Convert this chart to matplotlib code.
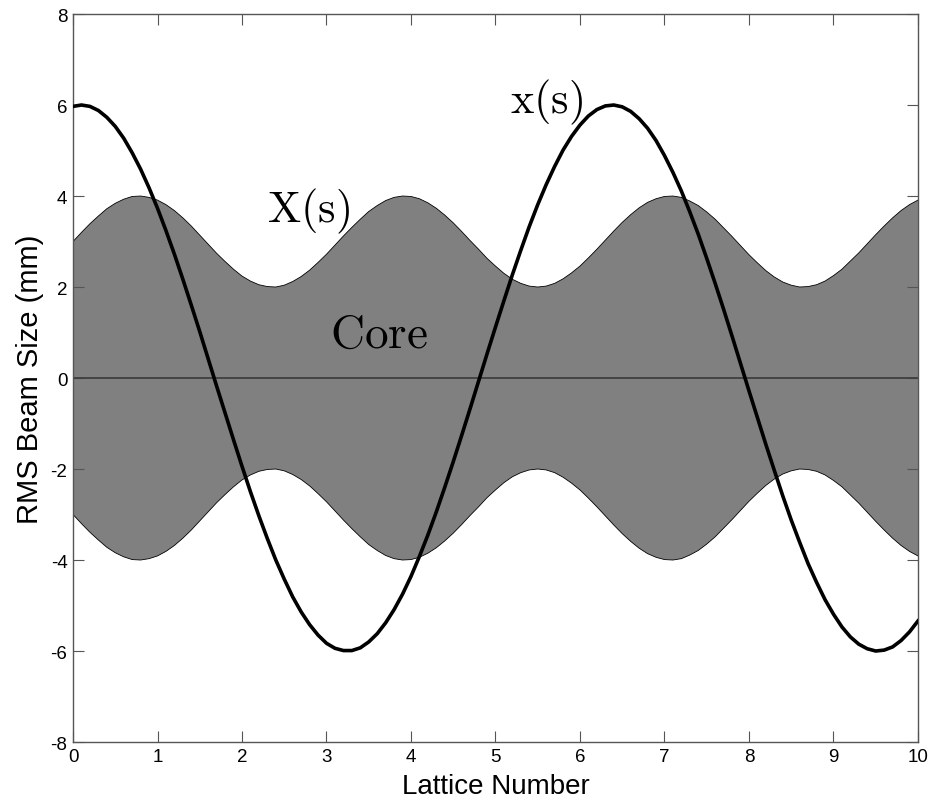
import matplotlib
matplotlib.use('Agg')
import matplotlib.pyplot as plt
import numpy as np

# lattice position, step 0.1
s = np.round(np.arange(0, 10.001, 0.1), 2)

# RMS core envelope X(s)
core_env = [3.00, 3.20, 3.39, 3.56, 3.72, 3.84, 3.93, 3.99, 4.00, 3.97,
            3.91, 3.81, 3.68, 3.52, 3.34, 3.14, 2.94, 2.74, 2.56, 2.39,
            2.24, 2.13, 2.05, 2.01, 2.00, 2.04, 2.12, 2.23, 2.37, 2.54,
            2.72, 2.92, 3.12, 3.31, 3.49, 3.66, 3.79, 3.90, 3.97, 4.00,
            3.99, 3.94, 3.85, 3.73, 3.58, 3.41, 3.22, 3.02, 2.83, 2.63,
            2.46, 2.30, 2.17, 2.08, 2.02, 2.00, 2.02, 2.08, 2.18, 2.31,
            2.46, 2.64, 2.83, 3.03, 3.23, 3.42, 3.59, 3.74, 3.86, 3.94,
            3.99, 4.00, 3.97, 3.89, 3.79, 3.65, 3.49, 3.30, 3.11, 2.91,
            2.71, 2.53, 2.36, 2.22, 2.11, 2.04, 2.00, 2.01, 2.05, 2.13,
            2.25, 2.39, 2.57, 2.75, 2.95, 3.15, 3.34, 3.52, 3.68, 3.81,
            3.91]

# single particle orbit x(s)
orbit = [5.97, 6.00, 5.97, 5.88, 5.73, 5.53, 5.27, 4.95, 4.59, 4.18,
         3.73, 3.24, 2.72, 2.17, 1.60, 1.02, 0.42, -0.18, -0.77, -1.36,
         -1.94, -2.50, -3.03, -3.53, -4.00, -4.42, -4.81, -5.14, -5.42, -5.65,
         -5.83, -5.94, -5.99, -5.99, -5.93, -5.80, -5.62, -5.38, -5.09, -4.75,
         -4.36, -3.92, -3.45, -2.94, -2.40, -1.84, -1.26, -0.67, -0.07, 0.53,
         1.12, 1.70, 2.27, 2.81, 3.33, 3.81, 4.25, 4.65, 5.01, 5.31,
         5.56, 5.76, 5.90, 5.98, 6.00, 5.96, 5.86, 5.70, 5.49, 5.22,
         4.89, 4.52, 4.11, 3.65, 3.16, 2.63, 2.08, 1.51, 0.92, 0.32,
         -0.28, -0.87, -1.46, -2.03, -2.59, -3.12, -3.61, -4.08, -4.49, -4.87,
         -5.19, -5.47, -5.69, -5.85, -5.95, -6.00, -5.98, -5.91, -5.77, -5.58,
         -5.34]

x_ticks = list(range(0, 11))
y_ticks = list(range(-8, 9, 2))

plt.rcParams['font.family'] = ['Liberation Sans', 'DejaVu Sans']
plt.rcParams['mathtext.fontset'] = 'cm'
plt.rcParams['axes.unicode_minus'] = False

fig = plt.figure(figsize=(9.41, 8.03), dpi=100)
ax = fig.add_axes([0.0776, 0.0747, 0.8979, 0.9066])

env = np.array(core_env)
ax.fill_between(s, -env, env, facecolor='#808080', edgecolor='none', zorder=1)
ax.plot(s, env, color='black', lw=0.6, zorder=2)
ax.plot(s, -env, color='black', lw=0.6, zorder=2)
ax.axhline(0, color='#3a3a3a', lw=1.2, zorder=2)
ax.plot(s, orbit, color='black', lw=2.6, zorder=3)

ax.text(2.30, 3.45, r'$\mathrm{X(s)}$', fontsize=32, ha='left', va='baseline')
ax.text(5.17, 5.83, r'$\mathrm{x(s)}$', fontsize=32, ha='left', va='baseline')
ax.text(3.04, 0.69, r'$\mathrm{Core}$', fontsize=34, ha='left', va='baseline')

ax.set_xlim(0, 10)
ax.set_ylim(-8, 8)
ax.set_xticks(x_ticks)
ax.set_yticks(y_ticks)
ax.tick_params(direction='in', length=8, width=0.8, color='#555555',
               top=True, right=True, labelsize=13.5, pad=4)
for sp in ax.spines.values():
    sp.set_color('#555555')
    sp.set_linewidth(1.0)

ax.set_xlabel('Lattice Number', fontsize=20, labelpad=6)
ax.set_ylabel('RMS Beam Size (mm)', fontsize=21, labelpad=5)

fig.savefig('out.png', dpi=100)
